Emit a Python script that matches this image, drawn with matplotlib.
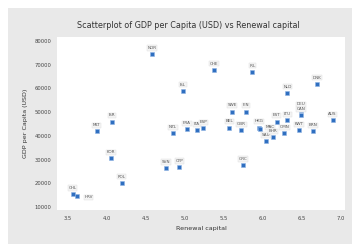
import matplotlib
matplotlib.use("Agg")
import matplotlib.pyplot as plt
from matplotlib.patches import Rectangle

# Dados (código do país, capital renovável, PIB per capita)
paises = [
    "NOR", "CHE", "IRL", "ISL", "NLD", "DNK", "SWE", "FIN", "DEU", "CAN",
    "AUS", "MLT", "ISR", "KOR", "POL", "CHL", "HRV", "NZL", "SVN", "CYP",
    "GRC", "FRA", "ITA", "ESP", "BEL", "GBR", "HKG", "MAC", "SAU", "BHR",
    "EST", "LTU", "OMN", "KWT", "BRN",
]
renewal_capital = [
    4.58, 5.38, 5.87, 4.98, 6.32, 6.70, 5.61, 5.79, 6.50, 6.50,
    6.90, 3.87, 4.07, 4.05, 4.19, 3.56, 3.62, 4.85, 4.76, 4.93,
    5.75, 5.03, 5.16, 5.24, 5.57, 5.73, 5.95, 5.97, 6.04, 6.13,
    6.18, 6.32, 6.28, 6.47, 6.65,
]
gdp_per_capita = [
    74500, 67800, 67000, 59000, 58200, 62000, 50200, 50200, 50700, 48600,
    46500, 41900, 46000, 30500, 20100, 15400, 14600, 41000, 26300, 26800,
    27600, 42700, 42300, 43100, 43500, 42300, 43500, 42700, 37700, 39300,
    46000, 46500, 41000, 42300, 41900,
]
x_ticks = [3.5, 4.0, 4.5, 5.0, 5.5, 6.0, 6.5, 7.0]
y_ticks = [10000, 20000, 30000, 40000, 50000, 60000, 70000, 80000]

# Rótulos que ficam ao lado do ponto em vez de acima
rotulos_lado = {"HRV": (5, -1), "MAC": (4, 1.5)}

fig = plt.figure(figsize=(3.58, 2.44), dpi=100, facecolor="white")

# Painel cinza de fundo (atrás dos eixos)
fundo = Rectangle((8 / 358, 0), 344 / 358, 236 / 244, transform=fig.transFigure,
                  facecolor="#e9e9e9", edgecolor="none", zorder=-10)
fig.add_artist(fundo)

ax = fig.add_axes([57 / 358, 34 / 244, 288 / 358, 207 / 244 - 34 / 244])
ax.set_facecolor("white")
ax.set_zorder(1)

ax.scatter(renewal_capital, gdp_per_capita, s=8, marker="s",
           color="#2f6fc0", edgecolors="#8fb4e3", linewidths=0.4, zorder=3)

for nome, x, y in zip(paises, renewal_capital, gdp_per_capita):
    if nome in rotulos_lado:
        deslocamento, ha, va = rotulos_lado[nome], "left", "center"
    else:
        deslocamento, ha, va = (0, 3), "center", "bottom"
    ax.annotate(nome, (x, y), xytext=deslocamento, textcoords="offset points",
                ha=ha, va=va, fontsize=3.0, color="#555555",
                bbox=dict(boxstyle="square,pad=0.15", facecolor="#f4f4f4",
                          edgecolor="#dddddd", linewidth=0.3))

ax.set_xlim(3.36, 7.06)
ax.set_ylim(8700, 81700)
ax.set_xticks(x_ticks)
ax.set_xticklabels([f"{t:.1f}" for t in x_ticks])
ax.set_yticks(y_ticks)
ax.tick_params(axis="both", length=0, labelsize=3.8, colors="#444444", pad=4)

for spine in ax.spines.values():
    spine.set_visible(False)

fig.text(188 / 358, 1 - 25 / 244,
         "Scatterplot of GDP per Capita (USD) vs Renewal capital",
         ha="center", va="center", fontsize=5.8, color="#333333")
ax.set_xlabel("Renewal capital", fontsize=4.6, color="#333333", labelpad=4)
ax.set_ylabel("GDP per Capita (USD)", fontsize=4.6, color="#333333", labelpad=5)

fig.savefig("out.png", dpi=100, facecolor=fig.get_facecolor())
